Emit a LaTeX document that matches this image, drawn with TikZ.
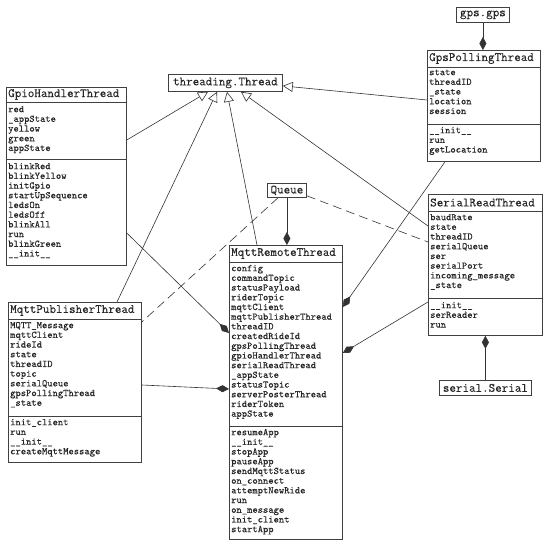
\documentclass[tikz,border=0pt]{standalone}
\usepackage{fontspec}
\newfontfamily\umlmono[FakeBold=0.15]{Latin Modern Mono}
\usetikzlibrary{arrows.meta}
\begin{document}
\begin{tikzpicture}[x=1pt,y=-1pt,
  box/.style={draw=black!75, line width=0.8pt, fill=white, inner sep=0pt, anchor=north west},
  sbox/.style={box, font=\umlmono\fontsize{12.7}{14}\selectfont, text=black!85},
  sepline/.style={draw=black!75, line width=0.8pt},
  hdr/.style={font=\umlmono\fontsize{12.7}{14}\selectfont, text=black!85, inner sep=0pt, anchor=west},
  lst/.style={font=\umlmono\fontsize{10.1}{9.7}\selectfont, text=black!85, inner sep=0pt, anchor=north west, align=left},
  conn/.style={draw=black!80, line width=0.6pt},
  inh/.style={conn, -{Triangle[open, length=10pt, width=10pt]}},
  comp/.style={conn, -{Diamond[length=13pt, width=7pt]}},
  dep/.style={conn, dash pattern=on 9pt off 5pt}
]
\path[use as bounding box] (0,0) rectangle (550,548);

% ---------- simple boxes ----------
\node[sbox, minimum width=114pt, minimum height=17pt] (thread) at (168,74) {threading.Thread};
\node[sbox, minimum width=53pt, minimum height=15pt] (gpsgps) at (456,7) {gps.gps};
\node[sbox, minimum width=39pt, minimum height=14pt] (queue) at (267,183) {Queue};
\node[sbox, minimum width=92pt, minimum height=15pt] (serialserial) at (439,380) {serial.Serial};

% ---------- GpioHandlerThread ----------
\node[box, minimum width=120pt, minimum height=178pt] (gpio) at (6,87) {};
\draw[sepline] (gpio.west |- 0,102) -- (gpio.east |- 0,102);
\draw[sepline] (gpio.west |- 0,159) -- (gpio.east |- 0,159);
\node[hdr] (gpioh) at (8,94.5) {GpioHandlerThread};
\node[lst] (gpioa) at (8,105.4) {\rule{0pt}{6.6pt}red\\\_appState\\yellow\\green\\appState};
\node[lst] (gpiom) at (8,162.4) {\rule{0pt}{6.6pt}blinkRed\\blinkYellow\\initGpio\\startUpSequence\\ledsOn\\ledsOff\\blinkAll\\run\\blinkGreen\\\_\_init\_\_};

% ---------- GpsPollingThread ----------
\node[box, minimum width=113pt, minimum height=111pt] (gpspoll) at (427,50) {};
\draw[sepline] (gpspoll.west |- 0,67) -- (gpspoll.east |- 0,67);
\draw[sepline] (gpspoll.west |- 0,124) -- (gpspoll.east |- 0,124);
\node[hdr] (gpsh) at (429,58.5) {GpsPollingThread};
\node[lst] (gpsa) at (429,68.4) {\rule{0pt}{6.6pt}state\\threadID\\\_state\\location\\session};
\node[lst] (gpsm) at (429,126.4) {\rule{0pt}{6.6pt}\_\_init\_\_\\run\\getLocation};

% ---------- SerialReadThread ----------
\node[box, minimum width=114pt, minimum height=141pt] (serial) at (428,194) {};
\draw[sepline] (serial.west |- 0,211) -- (serial.east |- 0,211);
\draw[sepline] (serial.west |- 0,298) -- (serial.east |- 0,298);
\node[hdr] (serh) at (430,202.5) {SerialReadThread};
\node[lst] (sera) at (430,213.4) {\rule{0pt}{6.6pt}baudRate\\state\\threadID\\serialQueue\\ser\\serialPort\\incoming\_message\\\_state};
\node[lst] (serm) at (430,301.4) {\rule{0pt}{6.6pt}\_\_init\_\_\\serReader\\run};

% ---------- MqttRemoteThread ----------
\node[box, minimum width=113pt, minimum height=294pt] (remote) at (229,245) {};
\draw[sepline] (remote.west |- 0,262) -- (remote.east |- 0,262);
\draw[sepline] (remote.west |- 0,426) -- (remote.east |- 0,426);
\node[hdr] (remh) at (231,253.5) {MqttRemoteThread};
\node[lst] (rema) at (231,264.4) {\rule{0pt}{6.6pt}config\\commandTopic\\statusPayload\\riderTopic\\mqttClient\\mqttPublisherThread\\threadID\\createdRideId\\gpsPollingThread\\gpioHandlerThread\\serialReadThread\\\_appState\\statusTopic\\serverPosterThread\\riderToken\\appState};
\node[lst] (remm) at (231,428.4) {\rule{0pt}{6.6pt}resumeApp\\\_\_init\_\_\\stopApp\\pauseApp\\sendMqttStatus\\on\_connect\\attemptNewRide\\run\\on\_message\\init\_client\\startApp};

% ---------- MqttPublisherThread ----------
\node[box, minimum width=133pt, minimum height=160pt] (pub) at (8,302) {};
\draw[sepline] (pub.west |- 0,319) -- (pub.east |- 0,319);
\draw[sepline] (pub.west |- 0,416) -- (pub.east |- 0,416);
\node[hdr] (pubh) at (10,310.5) {MqttPublisherThread};
\node[lst] (puba) at (10,321.4) {\rule{0pt}{6.6pt}MQTT\_Message\\mqttClient\\rideId\\state\\threadID\\topic\\serialQueue\\gpsPollingThread\\\_state};
\node[lst] (pubm) at (10,418.4) {\rule{0pt}{6.6pt}init\_client\\run\\\_\_init\_\_\\createMqttMessage};

% ---------- inheritance ----------
\draw[inh] ([yshift=-53pt]gpio.north east) -- ([xshift=40pt]thread.south west);
\draw[inh] ([xshift=109pt]pub.north west) -- ([xshift=49pt]thread.south west);
\draw[inh] ([xshift=28pt]remote.north west) -- ([xshift=59pt]thread.south west);
\draw[inh] ([yshift=-32pt]serial.north west) -- ([xshift=73pt]thread.south west);
\draw[inh] ([yshift=-50pt]gpspoll.north west) -- ([yshift=-3pt]thread.east);

% ---------- composition ----------
\draw[comp] (gpsgps.south) -- (gpsgps.south |- gpspoll.north);
\draw[comp] (queue.south) -- (queue.south |- remote.north);
\draw[comp] ([xshift=18pt]gpspoll.south west) -- ([yshift=-62pt]remote.north east);
\draw[comp] ([yshift=-108pt]serial.north west) -- ([yshift=-108pt]remote.north east);
\draw[comp] ([yshift=-146pt]gpio.north east) -- ([yshift=-88pt]remote.north west);
\draw[comp] ([yshift=-83pt]pub.north east) -- ([yshift=-144pt]remote.north west);
\draw[comp] (serialserial.north) -- (serialserial.north |- serial.south);

% ---------- dependencies ----------
\draw[dep] ([xshift=11pt]queue.south west) -- ([yshift=-20pt]pub.north east);
\draw[dep] ([yshift=2pt]queue.south east) -- ([yshift=-48pt]serial.north west);
\end{tikzpicture}
\end{document}
